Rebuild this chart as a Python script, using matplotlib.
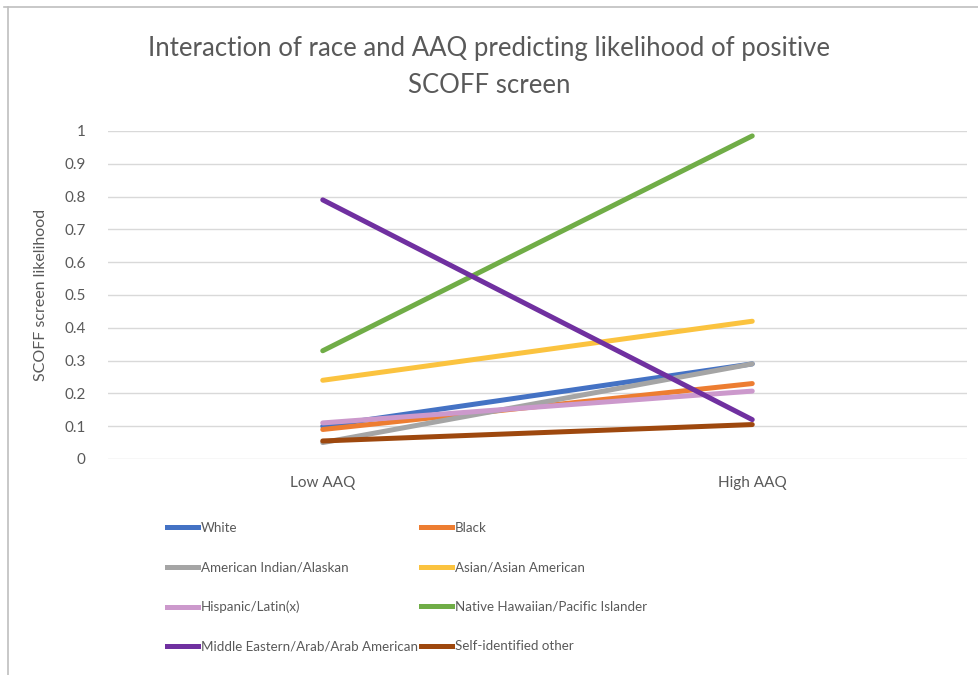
import matplotlib.pyplot as plt
from matplotlib.lines import Line2D

plt.rcParams['font.family'] = ['Lato', 'DejaVu Sans']

# data
conditions = ["Low AAQ", "High AAQ"]
groups = ["White", "Black", "American Indian/Alaskan", "Asian/Asian American",
          "Hispanic/Latin(x)", "Native Hawaiian/Pacific Islander",
          "Middle Eastern/Arab/Arab American", "Self-identified other"]
white = [0.10, 0.29]
black = [0.09, 0.23]
am_indian = [0.05, 0.29]
asian = [0.24, 0.42]
hispanic = [0.11, 0.207]
hawaiian = [0.33, 0.985]
mideast = [0.79, 0.12]
other = [0.055, 0.105]
colors = ["#4472C4", "#ED7D31", "#A5A5A5", "#FBC33F",
          "#CC99CC", "#70AD47", "#7030A0", "#9E480E"]
yticks = [0, 0.1, 0.2, 0.3, 0.4, 0.5, 0.6, 0.7, 0.8, 0.9, 1]

series = [white, black, am_indian, asian, hispanic, hawaiian, mideast, other]
txt = "#595959"

fig = plt.figure(figsize=(9.79, 6.75), dpi=100)
ax = fig.add_axes([108/979, 1-459/675, (967-108)/979, (459-131)/675])

xs = range(len(conditions))
for vals, c, name in zip(series, colors, groups):
    ax.plot(xs, vals, color=c, lw=3.6, solid_capstyle='round', label=name, zorder=3)

ax.set_xlim(-0.5, 1.5)
ax.set_ylim(0, 1)
ax.set_yticks(yticks)
ax.set_yticklabels([f"{v:g}" for v in yticks])
ax.set_xticks(list(xs))
ax.set_xticklabels(conditions)
ax.grid(axis='y', color='#D9D9D9', lw=1)
ax.set_axisbelow(True)
for s in ax.spines.values():
    s.set_visible(False)
ax.tick_params(axis='both', length=0, labelsize=11, labelcolor=txt)
ax.tick_params(axis='y', pad=16)
ax.tick_params(axis='x', pad=12)
ax.set_ylabel("SCOFF screen likelihood", fontsize=11.5, color=txt, labelpad=12)

fig.text(0.5, 1-67/675, "Interaction of race and AAQ predicting likelihood of positive\nSCOFF screen",
         ha='center', va='center', fontsize=18.5, color=txt, linespacing=1.62)

# legend reads across rows: reorder for matplotlib's column-first fill
order = [0, 2, 4, 6, 1, 3, 5, 7]
handles = [Line2D([0], [0], color=colors[i], lw=3.6) for i in order]
labels = [groups[i] for i in order]
leg = fig.legend(handles, labels, ncol=2, loc='upper left',
                 bbox_to_anchor=(167/979, 1-522/675), frameon=False,
                 borderaxespad=0, borderpad=0,
                 fontsize=9.6, handlelength=2.35, handletextpad=0.2,
                 labelspacing=2.06, columnspacing=0.2)
for t in leg.get_texts():
    t.set_color(txt)

# sheet border lines
fig.add_artist(Line2D([4/979, 1], [1-7/675, 1-7/675], color='#BFBFBF', lw=1.2))
fig.add_artist(Line2D([8/979, 8/979], [0, 1-7/675], color='#BFBFBF', lw=1.2))

fig.savefig("out.png", dpi=100)
